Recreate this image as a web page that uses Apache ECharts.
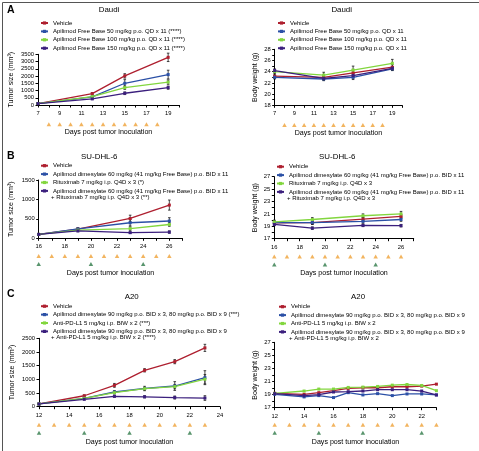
<!DOCTYPE html>
<html><head><meta charset="utf-8">
<script src="https://cdn.jsdelivr.net/npm/echarts@6/dist/echarts.min.js"></script>
<style>html,body{margin:0;padding:0;background:#fff}#c{width:479px;height:451px}</style>
</head><body><div id="c"></div>
<script>
const FONT = "'Liberation Sans',Arial,sans-serif";
const COLORS = ['#AE1F2F', '#2B50A6', '#82D63E', '#3B1F7D'];
const ORANGE = '#EFA137', DGREEN = '#2F7A49';

// ---------- Panel A (Daudi) ----------
const aNamesTumor = ['Vehicle', 'Apilimod Free Base 50 mg/kg p.o. QD x 11 (****)', 'Apilimod Free Base 100 mg/kg p.o. QD x 11 (****)', 'Apilimod Free Base 150 mg/kg p.o. QD x 11 (****)'];
const aNamesWeight = ['Vehicle', 'Apilimod Free Base 50 mg/kg p.o. QD x 11', 'Apilimod Free Base 100 mg/kg p.o. QD x 11', 'Apilimod Free Base 150 mg/kg p.o. QD x 11'];
const aDays = [7, 12, 15, 19];
const aTumorVehicle = [100, 790, 2010, 3290];
const aTumorFB50 = [100, 560, 1500, 2100];
const aTumorFB100 = [100, 580, 1200, 1580];
const aTumorFB150 = [100, 420, 810, 1200];
const aTumorVehicleErr = [15, 60, 150, 290];
const aTumorFB50Err = [15, 50, 250, 300];
const aTumorFB100Err = [15, 40, 120, 150];
const aTumorFB150Err = [15, 30, 90, 110];
const aWeightVehicle = [23.2, 23.0, 23.8, 24.8];
const aWeightFB50 = [23.0, 22.7, 23.0, 24.5];
const aWeightFB100 = [24.0, 23.4, 24.3, 25.5];
const aWeightFB150 = [24.2, 22.8, 23.3, 24.6];
const aWeightVehicleErr = [0.4, 0.4, 0.6, 0.5];
const aWeightFB50Err = [0.3, 0.3, 0.4, 0.3];
const aWeightFB100Err = [0.4, 0.5, 0.7, 0.7];
const aWeightFB150Err = [0.3, 0.3, 0.4, 0.3];
const aDoseOrange = [8, 9, 10, 11, 12, 13, 14, 15, 16, 17, 18];
const aDoseGreen = [];

// ---------- Panel B (SU-DHL-6) ----------
const bNamesTumor = ['Vehicle', 'Apilimod dimesylate 60 mg/kg (41 mg/kg Free Base) p.o. BID x 11', 'Rituximab 7 mg/kg i.p. Q4D x 3 (*)', 'Apilimod dimesylate 60 mg/kg (41 mg/kg Free Base) p.o. BID x 11\n+ Rituximab 7 mg/kg i.p. Q4D x 3 (**)'];
const bNamesWeight = ['Vehicle', 'Apilimod dimesylate 60 mg/kg (41 mg/kg Free Base) p.o. BID x 11', 'Rituximab 7 mg/kg i.p. Q4D x 3', 'Apilimod dimesylate 60 mg/kg (41 mg/kg Free Base) p.o. BID x 11\n+ Rituximab 7 mg/kg i.p. Q4D x 3'];
const bDays = [16, 19, 23, 26];
const bTumorVehicle = [100, 235, 510, 855];
const bTumorApi = [100, 240, 400, 445];
const bTumorRitux = [100, 210, 250, 355];
const bTumorCombo = [100, 190, 145, 160];
const bTumorVehicleErr = [10, 30, 85, 130];
const bTumorApiErr = [10, 30, 80, 85];
const bTumorRituxErr = [10, 25, 45, 45];
const bTumorComboErr = [10, 20, 20, 30];
const bWeightVehicle = [19.55, 19.6, 20.15, 20.6];
const bWeightApi = [19.6, 19.6, 19.8, 20.1];
const bWeightRitux = [19.7, 20.1, 20.7, 21.0];
const bWeightCombo = [19.3, 18.7, 19.15, 19.1];
const bWeightVehicleErr = [0.3, 0.3, 0.3, 0.3];
const bWeightApiErr = [0.3, 0.3, 0.3, 0.3];
const bWeightRituxErr = [0.3, 0.3, 0.3, 0.4];
const bWeightComboErr = [0.2, 0.2, 0.2, 0.2];
const bDoseOrange = [16, 17, 18, 19, 20, 21, 22, 23, 24, 25, 26];
const bDoseGreen = [16, 20, 24];

// ---------- Panel C (A20) ----------
const cNamesTumor = ['Vehicle', 'Apilimod dimesylate 90 mg/kg p.o. BID x 3, 80 mg/kg p.o. BID x 9 (***)', 'Anti-PD-L1 5 mg/kg i.p. BIW x 2 (***)', 'Apilimod dimesylate 90 mg/kg p.o. BID x 3, 80 mg/kg p.o. BID x 9\n+ Anti-PD-L1 5 mg/kg i.p. BIW x 2 (****)'];
const cNamesWeight = ['Vehicle', 'Apilimod dimesylate 90 mg/kg p.o. BID x 3, 80 mg/kg p.o. BID x 9', 'Anti-PD-L1 5 mg/kg i.p. BIW x 2', 'Apilimod dimesylate 90 mg/kg p.o. BID x 3, 80 mg/kg p.o. BID x 9\n+ Anti-PD-L1 5 mg/kg i.p. BIW x 2'];
const cTumorDays = [12, 15, 17, 19, 21, 23];
const cTumorVehicle = [100, 400, 780, 1330, 1646, 2150];
const cTumorApi = [100, 305, 537, 665, 756, 1061];
const cTumorPDL1 = [100, 305, 512, 658, 735, 1005];
const cTumorCombo = [100, 270, 378, 362, 335, 317];
const cTumorVehicleErr = [10, 30, 70, 60, 75, 130];
const cTumorApiErr = [10, 30, 50, 80, 160, 255];
const cTumorPDL1Err = [10, 30, 50, 50, 80, 170];
const cTumorComboErr = [10, 20, 30, 40, 55, 85];
const cWeightDays = [12, 14, 15, 16, 17, 18, 19, 20, 21, 22, 23];
const cWeightVehicle = [19.2, 19.05, 19.3, 19.6, 19.95, 20.05, 20.05, 20.2, 20.2, 20.3, 20.6];
const cWeightApi = [19.05, 18.65, 18.85, 18.55, 19.3, 18.95, 19.15, 18.85, 19.1, 19.1, 18.95];
const cWeightPDL1 = [19.2, 19.55, 19.85, 19.85, 20.1, 20.15, 20.25, 20.45, 20.55, 20.4, 19.6];
const cWeightCombo = [19.15, 18.85, 19.0, 19.4, 19.45, 19.55, 19.75, 19.75, 19.75, 19.55, 18.95];
const cDoseOrange = [12, 13, 14, 15, 16, 17, 18, 19, 20, 21, 22, 23];
const cDoseGreen = [12, 15, 18, 22];

// ---------- Tick labels ----------
const aXLabels = [7, 9, 11, 13, 15, 17, 19];
const bXLabels = [16, 18, 20, 22, 24, 26];
const cLeftXLabels = [12, 14, 16, 18, 20, 22, 24];
const cRightXLabels = [12, 14, 16, 18, 20, 22];
const aTumorYLabels = [0, 500, 1000, 1500, 2000, 2500, 3000, 3500];
const aWeightYLabels = [18, 20, 22, 24, 26, 28];
const bTumorYLabels = [0, 500, 1000, 1500];
const oddWeightYLabels = [17, 19, 21, 23, 25, 27];
const cTumorYLabels = [0, 500, 1000, 1500, 2000, 2500];

const grids = [], xAxes = [], yAxes = [], series = [], legends = [], graphics = [];

function errRender(params, api) {
  const x = api.value(0), y = api.value(1), e = api.value(2);
  const t = api.coord([x, y + e]), b = api.coord([x, y - e]);
  const w = 1.3, st = { stroke: '#1a1a1a', lineWidth: 0.8 };
  return { type: 'group', children: [
    { type: 'line', shape: { x1: t[0], y1: t[1], x2: b[0], y2: b[1] }, style: st },
    { type: 'line', shape: { x1: t[0] - w, y1: t[1], x2: t[0] + w, y2: t[1] }, style: st },
    { type: 'line', shape: { x1: b[0] - w, y1: b[1], x2: b[0] + w, y2: b[1] }, style: st }
  ] };
}

const axisTxt = { fontFamily: FONT, fontSize: 5.8, color: '#000' };
const nameTxt = { fontFamily: FONT, fontSize: 7.1, color: '#000' };
const LEG_FS = 6, PITCH = 8.4;

function addPanel(p) {
  const gi = grids.length;
  grids.push({ left: p.left, top: p.top, width: p.width, height: p.height });
  xAxes.push({ gridIndex: gi, type: 'value', min: p.xMin, max: p.xMax, interval: 1,
    axisLine: { lineStyle: { color: '#000', width: 1 } },
    axisTick: { length: 2.5, lineStyle: { color: '#000', width: 1 } },
    axisLabel: Object.assign({ margin: 5.5, showMinLabel: true, showMaxLabel: true, formatter: v => p.xLabels.indexOf(v) >= 0 ? String(v) : '' }, axisTxt),
    splitLine: { show: false },
    name: 'Days post tumor inoculation', nameLocation: 'middle', nameGap: p.xNameGap, nameTextStyle: nameTxt });
  yAxes.push({ gridIndex: gi, type: 'value', min: p.yMin, max: p.yMax, interval: p.yInt,
    axisLine: { show: true, lineStyle: { color: '#000', width: 1 } },
    axisTick: { show: true, length: 2.5, lineStyle: { color: '#000', width: 1 } },
    axisLabel: Object.assign({ margin: 4, showMinLabel: true, showMaxLabel: true, formatter: v => p.yLabels.indexOf(v) >= 0 ? String(v) : '' }, axisTxt),
    splitLine: { show: false },
    name: p.yName, nameLocation: 'middle', nameGap: p.yNameGap, nameTextStyle: nameTxt });
  p.groups.forEach((g, k) => {
    series.push({ type: 'custom', xAxisIndex: gi, yAxisIndex: gi, silent: true, z: 2,
      data: p.days.map((d, i) => [d, g.vals[i], g.errs ? g.errs[i] : 0]),
      renderItem: g.errs ? errRender : () => ({ type: 'group', children: [] }) });
    series.push({ type: 'line', name: p.names[k], xAxisIndex: gi, yAxisIndex: gi, z: 3,
      data: p.days.map((d, i) => [d, g.vals[i]]),
      symbol: 'rect', symbolSize: 3, showSymbol: true,
      lineStyle: { width: 1.3, color: COLORS[k] }, itemStyle: { color: COLORS[k] } });
  });
  // dosing triangle row
  const ti = grids.length;
  grids.push({ left: p.left, top: p.triTop, width: p.width, height: 16 });
  xAxes.push({ gridIndex: ti, type: 'value', min: p.xMin, max: p.xMax, show: false });
  yAxes.push({ gridIndex: ti, type: 'value', min: 0, max: 1, show: false });
  series.push({ type: 'scatter', xAxisIndex: ti, yAxisIndex: ti, symbol: 'triangle', symbolSize: [4.5, 4], silent: true,
    itemStyle: { color: ORANGE }, data: p.orange.map(d => [d, 0.75]) });
  if (p.green.length) series.push({ type: 'scatter', xAxisIndex: ti, yAxisIndex: ti, symbol: 'triangle', symbolSize: [4.5, 4], silent: true,
    itemStyle: { color: DGREEN }, data: p.green.map(d => [d, 0.25]) });
  // legend
  legends.push({ orient: 'vertical', left: p.legLeft, top: p.legTop, padding: 0, itemGap: 0, itemWidth: 7, itemHeight: 4,
    selectedMode: false, data: p.names, formatter: n => n.split('\n')[0],
    textStyle: { fontFamily: FONT, fontSize: LEG_FS, color: '#000', lineHeight: PITCH } });
  p.names.forEach((n, k) => {
    const parts = n.split('\n');
    if (parts.length > 1) {
      graphics.push({ type: 'text', left: p.legLeft + 11, top: p.legTop + PITCH * k + 7.4,
        style: { text: parts[1], font: LEG_FS + 'px ' + FONT, fill: '#000' } });
    }
  });
}

function grp(vals, errs) { return { vals, errs }; }

addPanel({ left: 38, top: 54.3, width: 141, height: 50.7, xMin: 7, xMax: 20, xLabels: aXLabels, xNameGap: 24,
  yMin: 0, yMax: 3500, yInt: 500, yLabels: aTumorYLabels, yName: 'Tumor size (mm³)', yNameGap: 23.4,
  days: aDays, names: aNamesTumor, groups: [grp(aTumorVehicle, aTumorVehicleErr), grp(aTumorFB50, aTumorFB50Err), grp(aTumorFB100, aTumorFB100Err), grp(aTumorFB150, aTumorFB150Err)],
  triTop: 120.3, orange: aDoseOrange, green: aDoseGreen, legLeft: 40, legTop: 18.8 });
addPanel({ left: 274.7, top: 49.3, width: 127.4, height: 56, xMin: 7, xMax: 20, xLabels: aXLabels, xNameGap: 24.6,
  yMin: 18, yMax: 28, yInt: 1, yLabels: aWeightYLabels, yName: 'Body weight (g)', yNameGap: 16,
  days: aDays, names: aNamesWeight, groups: [grp(aWeightVehicle, aWeightVehicleErr), grp(aWeightFB50, aWeightFB50Err), grp(aWeightFB100, aWeightFB100Err), grp(aWeightFB150, aWeightFB150Err)],
  triTop: 121, orange: aDoseOrange, green: aDoseGreen, legLeft: 277, legTop: 18.8 });
addPanel({ left: 38.7, top: 180, width: 143.7, height: 58.3, xMin: 16, xMax: 27, xLabels: bXLabels, xNameGap: 31.4,
  yMin: 0, yMax: 1500, yInt: 500, yLabels: bTumorYLabels, yName: 'Tumor size (mm³)', yNameGap: 23.7,
  days: bDays, names: bNamesTumor, groups: [grp(bTumorVehicle, bTumorVehicleErr), grp(bTumorApi, bTumorApiErr), grp(bTumorRitux, bTumorRituxErr), grp(bTumorCombo, bTumorComboErr)],
  triTop: 252, orange: bDoseOrange, green: bDoseGreen, legLeft: 40, legTop: 161.5 });
addPanel({ left: 274.3, top: 176.7, width: 139.4, height: 62, xMin: 16, xMax: 27, xLabels: bXLabels, xNameGap: 31,
  yMin: 17, yMax: 27, yInt: 1, yLabels: oddWeightYLabels, yName: 'Body weight (g)', yNameGap: 15.5,
  days: bDays, names: bNamesWeight, groups: [grp(bWeightVehicle, bWeightVehicleErr), grp(bWeightApi, bWeightApiErr), grp(bWeightRitux, bWeightRituxErr), grp(bWeightCombo, bWeightComboErr)],
  triTop: 252.5, orange: bDoseOrange, green: bDoseGreen, legLeft: 276, legTop: 162.5 });
addPanel({ left: 39, top: 338.3, width: 181, height: 68.4, xMin: 12, xMax: 24, xLabels: cLeftXLabels, xNameGap: 31.4,
  yMin: 0, yMax: 2500, yInt: 500, yLabels: cTumorYLabels, yName: 'Tumor size (mm³)', yNameGap: 23,
  days: cTumorDays, names: cNamesTumor, groups: [grp(cTumorVehicle, cTumorVehicleErr), grp(cTumorApi, cTumorApiErr), grp(cTumorPDL1, cTumorPDL1Err), grp(cTumorCombo, cTumorComboErr)],
  triTop: 420.7, orange: cDoseOrange, green: cDoseGreen, legLeft: 40, legTop: 302 });
addPanel({ left: 274.7, top: 342.3, width: 161.7, height: 65.4, xMin: 12, xMax: 23, xLabels: cRightXLabels, xNameGap: 30.4,
  yMin: 17, yMax: 27, yInt: 1, yLabels: oddWeightYLabels, yName: 'Body weight (g)', yNameGap: 16,
  days: cWeightDays, names: cNamesWeight, groups: [grp(cWeightVehicle), grp(cWeightApi), grp(cWeightPDL1), grp(cWeightCombo)],
  triTop: 420.7, orange: cDoseOrange, green: cDoseGreen, legLeft: 278, legTop: 302.5 });

const titleTxt = { fontFamily: FONT, fontSize: 7.9, fontWeight: 'normal', color: '#000' };
const letterTxt = { fontFamily: FONT, fontSize: 10.5, fontWeight: 'bold', color: '#000' };
const titles = [
  { text: 'A', left: 7, top: 4.5, padding: 0, textStyle: letterTxt },
  { text: 'B', left: 7, top: 151, padding: 0, textStyle: letterTxt },
  { text: 'C', left: 7, top: 288.5, padding: 0, textStyle: letterTxt },
  { text: 'Daudi', left: 109, top: 6, textAlign: 'center', padding: 0, textStyle: titleTxt },
  { text: 'Daudi', left: 341.7, top: 6, textAlign: 'center', padding: 0, textStyle: titleTxt },
  { text: 'SU-DHL-6', left: 99.3, top: 153, textAlign: 'center', padding: 0, textStyle: titleTxt },
  { text: 'SU-DHL-6', left: 337.3, top: 153.3, textAlign: 'center', padding: 0, textStyle: titleTxt },
  { text: 'A20', left: 131.7, top: 293, textAlign: 'center', padding: 0, textStyle: titleTxt },
  { text: 'A20', left: 358, top: 293, textAlign: 'center', padding: 0, textStyle: titleTxt }
];

graphics.push({ type: 'rect', left: 0, top: 0, shape: { x: 0.5, y: 0.5, width: 478, height: 450 }, style: { fill: 'none', stroke: '#555', lineWidth: 1 }, silent: true });

const chart = echarts.init(document.getElementById('c'), null, { renderer: 'canvas' });
chart.setOption({
  animation: false,
  backgroundColor: '#fff',
  title: titles,
  grid: grids, xAxis: xAxes, yAxis: yAxes,
  legend: legends, series: series, graphic: graphics
});
</script></body></html>
